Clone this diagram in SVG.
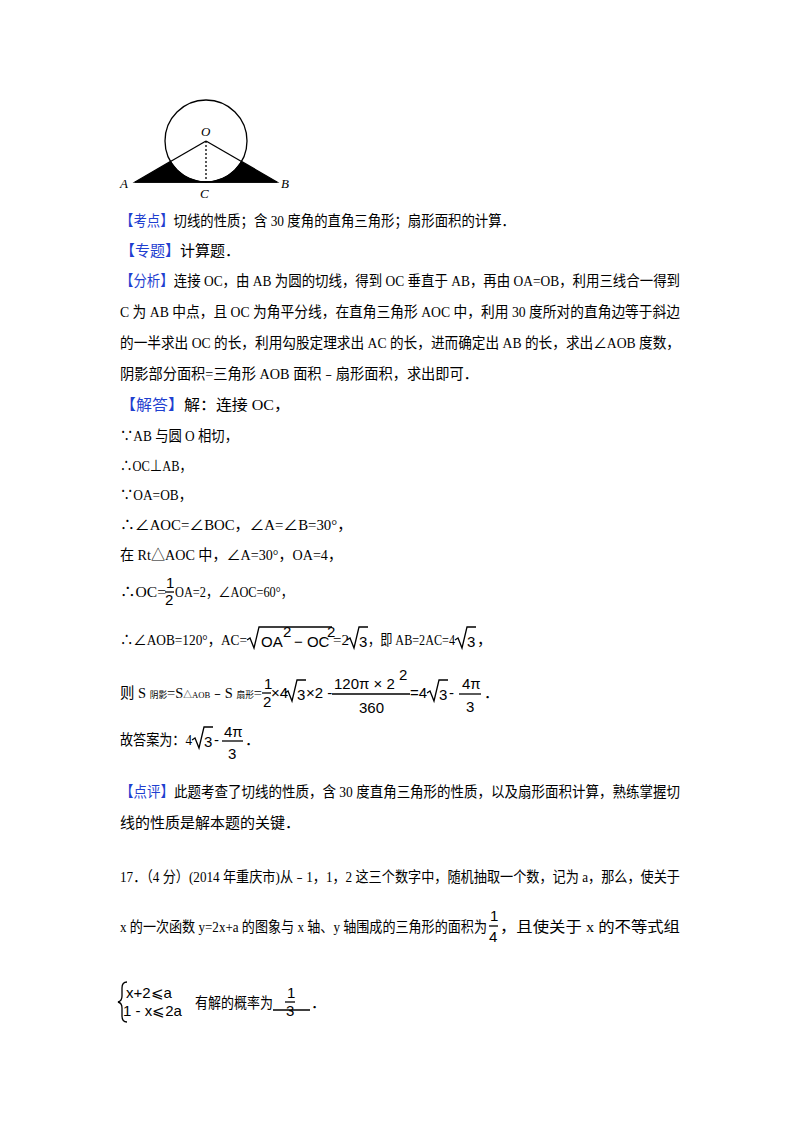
<svg xmlns="http://www.w3.org/2000/svg" width="800" height="1132" viewBox="0 0 800 1132">
<style>
text{font-family:"Liberation Serif","Noto Sans CJK SC",serif;font-size:15px;fill:#000}
.b{fill:#1f3fd0}
.s{font-family:"Liberation Sans","Noto Sans CJK SC",sans-serif}
.i{font-style:italic;font-size:13px}
.sm{font-size:9px}
line,path,circle{stroke:#000;stroke-width:1.3}
</style>
<rect width="800" height="1132" fill="#fff"/>
<g id="figure">
<path d="M135,182 L206,182 A41,41 0 0 1 170.5,161.5 Z" fill="#000" stroke="none"/>
<path d="M277,182 L206,182 A41,41 0 0 0 241.5,161.5 Z" fill="#000" stroke="none"/>
<circle cx="206" cy="141" r="41" fill="none"/>
<line x1="135" y1="182" x2="277" y2="182"/>
<line x1="206" y1="141" x2="170.5" y2="161.5"/>
<line x1="206" y1="141" x2="241.5" y2="161.5"/>
<line x1="206" y1="141" x2="206" y2="182" stroke-dasharray="2,2" stroke-width="1"/>
<text class="i" x="201" y="136">O</text>
<text class="i" x="120" y="188">A</text>
<text class="i" x="200" y="198">C</text>
<text class="i" x="281" y="188">B</text>
</g>
<g id="text">
<text x="120" y="226" textLength="395" lengthAdjust="spacingAndGlyphs"><tspan class="b">【考点】</tspan>切线的性质；含 30 度角的直角三角形；扇形面积的计算．</text>
<text x="120" y="256"><tspan class="b">【专题】</tspan>计算题．</text>
<text x="120" y="286" textLength="560" lengthAdjust="spacingAndGlyphs"><tspan class="b">【分析】</tspan>连接 OC，由 AB 为圆的切线，得到 OC 垂直于 AB，再由 OA=OB，利用三线合一得到</text>
<text x="120" y="317" textLength="560" lengthAdjust="spacingAndGlyphs">C 为 AB 中点，且 OC 为角平分线，在直角三角形 AOC 中，利用 30 度所对的直角边等于斜边</text>
<text x="120" y="348" textLength="560" lengthAdjust="spacingAndGlyphs">的一半求出 OC 的长，利用勾股定理求出 AC 的长，进而确定出 AB 的长，求出∠AOB 度数，</text>
<text x="120" y="379" textLength="358" lengthAdjust="spacingAndGlyphs">阴影部分面积=三角形 AOB 面积﹣扇形面积，求出即可．</text>
<text x="120" y="410" textLength="170" lengthAdjust="spacingAndGlyphs"><tspan class="b">【解答】</tspan>解：连接 OC，</text>
<text x="120" y="441" textLength="118" lengthAdjust="spacingAndGlyphs">∵AB 与圆 O 相切，</text>
<text x="120" y="471" textLength="72" lengthAdjust="spacingAndGlyphs">∴OC⊥AB，</text>
<text x="120" y="500" textLength="72" lengthAdjust="spacingAndGlyphs">∵OA=OB，</text>
<text x="120" y="530" textLength="232" lengthAdjust="spacingAndGlyphs">∴∠AOC=∠BOC，∠A=∠B=30°，</text>
<text x="120" y="560" textLength="222" lengthAdjust="spacingAndGlyphs">在 Rt△AOC 中，∠A=30°，OA=4，</text>
<text x="120" y="597" textLength="46" lengthAdjust="spacingAndGlyphs">∴OC=</text>
<text class="s" x="166" y="588" font-size="14">1</text>
<line x1="165" y1="592" x2="174" y2="592" stroke-width="1"/>
<text class="s" x="165" y="605" font-size="14">2</text>
<text x="175" y="597" textLength="118" lengthAdjust="spacingAndGlyphs">OA=2，∠AOC=60°，</text>
<text x="120" y="645" textLength="127" lengthAdjust="spacingAndGlyphs">∴∠AOB=120°，AC=</text>
<path d="M247,640 l3,-2 l4,10 l5,-21 h73" fill="none" stroke-width="1"/>
<text class="s" x="261" y="647" font-size="14">OA</text>
<text class="s" x="283" y="637" font-size="10">2</text>
<text class="s" x="294" y="647" font-size="14">− OC</text>
<text class="s" x="327" y="637" font-size="10">2</text>
<text x="333" y="645">=2</text>
<path d="M347,640 l3,-2 l4,10 l5,-21 h9" fill="none" stroke-width="1"/>
<text class="s" x="359" y="647" font-size="14">3</text>
<text x="368" y="645" textLength="87" lengthAdjust="spacingAndGlyphs">，即 AB=2AC=4</text>
<path d="M455,640 l3,-2 l4,10 l5,-21 h9" fill="none" stroke-width="1"/>
<text class="s" x="467" y="647" font-size="14">3</text>
<text x="477" y="645">，</text>
<text x="120" y="698" textLength="142" lengthAdjust="spacingAndGlyphs">则 S <tspan class="sm">阴影</tspan>=S<tspan class="sm">△AOB</tspan>﹣S <tspan class="sm">扇形</tspan>=</text>
<text class="s" x="264" y="689" font-size="14">1</text>
<line x1="262" y1="693" x2="271" y2="693" stroke-width="1"/>
<text class="s" x="263" y="707" font-size="14">2</text>
<text class="s" x="271" y="698" font-size="12">×4</text>
<path d="M285,693 l3,-2 l4,10 l5,-21 h9" fill="none" stroke-width="1"/>
<text class="s" x="297" y="700" font-size="14">3</text>
<text class="s" x="306" y="698" font-size="12">×2 -</text>
<text class="s" x="334" y="689" font-size="14">120π × 2</text>
<text class="s" x="399" y="680" font-size="10">2</text>
<line x1="332" y1="694" x2="410" y2="694" stroke-width="1"/>
<text class="s" x="359" y="713" font-size="14">360</text>
<text class="s" x="410" y="698" font-size="13">=4</text>
<path d="M427,693 l3,-2 l4,10 l5,-21 h9" fill="none" stroke-width="1"/>
<text class="s" x="439" y="700" font-size="14">3</text>
<text class="s" x="449" y="698" font-size="13">-</text>
<text class="s" x="462" y="689" font-size="14">4π</text>
<line x1="459" y1="694" x2="481" y2="694" stroke-width="1"/>
<text class="s" x="466" y="712" font-size="14">3</text>
<text x="484" y="698">．</text>
<text x="120" y="745" textLength="72" lengthAdjust="spacingAndGlyphs">故答案为：4</text>
<path d="M192,740 l3,-2 l4,10 l5,-21 h9" fill="none" stroke-width="1"/>
<text class="s" x="204" y="747" font-size="14">3</text>
<text class="s" x="214" y="745" font-size="13">-</text>
<text class="s" x="224" y="737" font-size="14">4π</text>
<line x1="222" y1="741" x2="243" y2="741" stroke-width="1"/>
<text class="s" x="228" y="759" font-size="14">3</text>
<text x="245" y="745">．</text>
<text x="120" y="797" textLength="560" lengthAdjust="spacingAndGlyphs"><tspan class="b">【点评】</tspan>此题考查了切线的性质，含 30 度直角三角形的性质，以及扇形面积计算，熟练掌握切</text>
<text x="120" y="828">线的性质是解本题的关键．</text>
<text x="120" y="882" textLength="560" lengthAdjust="spacingAndGlyphs">17．（4 分）(2014 年重庆市)从﹣1，1，2 这三个数字中，随机抽取一个数，记为 a，那么，使关于</text>
<text x="120" y="932" textLength="367" lengthAdjust="spacingAndGlyphs">x 的一次函数 y=2x+a 的图象与 x 轴、y 轴围成的三角形的面积为</text>
<text class="s" x="490" y="921" font-size="14">1</text>
<line x1="489" y1="926" x2="498" y2="926" stroke-width="1"/>
<text class="s" x="489" y="942" font-size="14">4</text>
<text x="500" y="932" textLength="180" lengthAdjust="spacingAndGlyphs">，且使关于 x 的不等式组</text>
<path d="M127,982 q-5,0 -5,6 v8 q0,5 -4,6 q4,1 4,6 v8 q0,6 5,6" fill="none" stroke-width="1"/>
<text class="s" x="126" y="998" font-size="13">x+2⩽a</text>
<text class="s" x="123" y="1016" font-size="13">1 - x⩽2a</text>
<text x="195" y="1008" textLength="78" lengthAdjust="spacingAndGlyphs">有解的概率为</text>
<line x1="273" y1="1010" x2="310" y2="1010" stroke-width="1"/>
<text class="s" x="287" y="998" font-size="13">1</text>
<line x1="285" y1="1002" x2="295" y2="1002" stroke-width="1"/>
<text class="s" x="286" y="1016" font-size="13">3</text>
<text x="311" y="1008">．</text>
</g>
</svg>
